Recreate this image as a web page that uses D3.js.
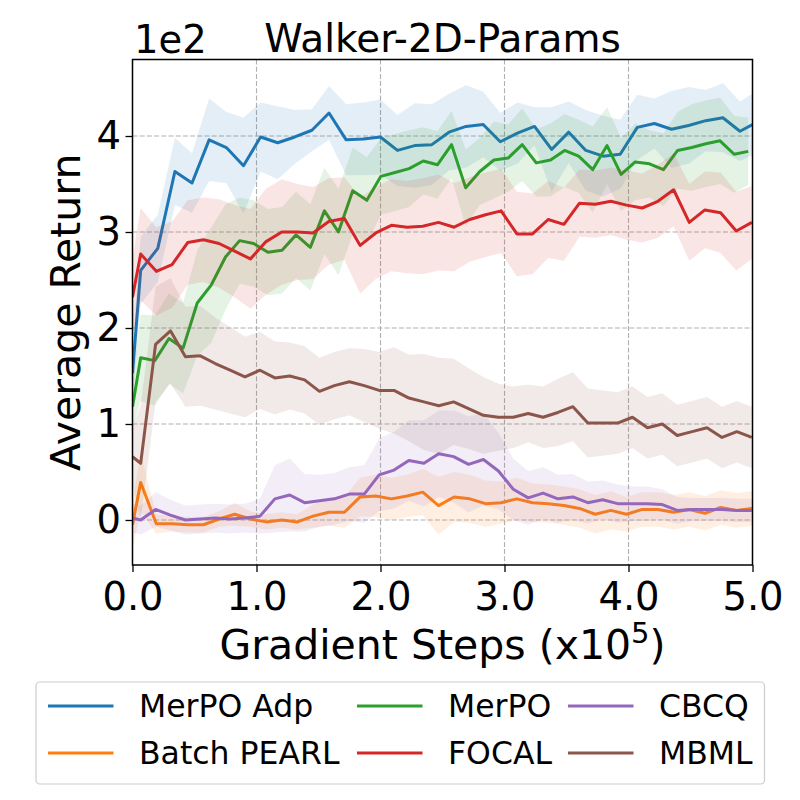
<!DOCTYPE html>
<html>
<head>
<meta charset="utf-8">
<script src="https://cdn.jsdelivr.net/npm/d3@7"></script>
<style>
body { margin: 0; background: #fff; }
text { font-family: "DejaVu Sans", sans-serif; fill: #000; }
</style>
</head>
<body>
<div id="chart"></div>
<script>
// gradient steps (x1e5) at which each run was logged
const stepsAdp = [0, 0.066, 0.204, 0.342, 0.480, 0.618, 0.757, 0.895, 1.033, 1.171, 1.309, 1.447, 1.585, 1.723, 1.861, 1.999, 2.137, 2.276, 2.414, 2.552, 2.690, 2.828, 2.966, 3.104, 3.242, 3.380, 3.518, 3.656, 3.795, 3.933, 4.071, 4.209, 4.347, 4.485, 4.623, 4.761, 4.899, 5.0];
const stepsMerpo = [0, 0.066, 0.180, 0.294, 0.408, 0.522, 0.636, 0.750, 0.864, 0.977, 1.092, 1.206, 1.319, 1.434, 1.548, 1.661, 1.776, 1.890, 2.003, 2.117, 2.231, 2.345, 2.459, 2.573, 2.687, 2.801, 2.915, 3.029, 3.143, 3.256, 3.371, 3.485, 3.598, 3.712, 3.827, 3.940, 4.054, 4.169, 4.282, 4.396, 4.510, 4.624, 4.738, 4.852, 4.966];
const stepsFocal = [0, 0.066, 0.192, 0.319, 0.445, 0.572, 0.698, 0.824, 0.951, 1.077, 1.204, 1.330, 1.456, 1.583, 1.709, 1.836, 1.962, 2.088, 2.215, 2.341, 2.468, 2.594, 2.720, 2.847, 2.973, 3.100, 3.226, 3.352, 3.479, 3.605, 3.732, 3.858, 3.984, 4.111, 4.237, 4.364, 4.490, 4.616, 4.743, 4.869, 4.995];
const stepsMbml = [0, 0.066, 0.186, 0.306, 0.427, 0.547, 0.667, 0.787, 0.907, 1.028, 1.148, 1.268, 1.388, 1.508, 1.628, 1.749, 1.869, 1.989, 2.109, 2.229, 2.350, 2.470, 2.590, 2.710, 2.830, 2.951, 3.071, 3.191, 3.311, 3.431, 3.552, 3.672, 3.792, 3.912, 4.032, 4.153, 4.273, 4.393, 4.513, 4.633, 4.754, 4.874, 4.994];

// mean return and std for each method
const merpoAdpMean = [153, 260, 283, 363, 351, 396, 388, 369, 399, 393, 399, 406, 424, 396, 397, 399, 385, 390, 391, 404, 410, 412, 394, 403, 410, 386, 404, 385, 379, 381, 409, 413, 407, 411, 416, 419, 405, 412];
const merpoAdpStd = [30, 35, 35, 35, 31, 43, 37, 50, 36, 38, 28, 22, 28, 37, 38, 39, 37, 44, 42, 40, 43, 34, 30, 32, 20, 44, 32, 42, 42, 36, 34, 26, 40, 40, 32, 36, 31, 32];

const pearlMean = [-5, 39, -4, -4, -5, -5, 1, 6, 1, -2, 0, -2, 4, 8, 8, 24, 25, 22, 25, 29, 15, 24, 22, 17, 18, 22, 18, 17, 15, 12, 6, 10, 6, 11, 11, 8, 11, 7, 13, 10, 12];
const pearlStd = [25, 30, 10, 8, 8, 8, 8, 12, 8, 8, 8, 8, 12, 14, 16, 20, 22, 22, 22, 24, 30, 26, 25, 24, 22, 22, 20, 20, 20, 20, 20, 20, 18, 18, 18, 18, 18, 18, 18, 18, 18];

const merpoMean = [118, 169, 166, 189, 179, 226, 245, 274, 291, 288, 279, 281, 297, 284, 322, 300, 343, 333, 358, 362, 366, 374, 370, 391, 346, 363, 375, 377, 391, 372, 375, 385, 379, 365, 390, 360, 373, 371, 365, 385, 388, 392, 395, 381, 384];
const merpoStd = [25, 45, 47, 47, 47, 55, 60, 55, 45, 45, 45, 45, 45, 45, 45, 45, 45, 45, 40, 40, 40, 35, 35, 35, 40, 35, 40, 35, 38, 35, 38, 38, 38, 45, 40, 38, 40, 35, 38, 40, 45, 45, 45, 40, 35];

const focalMean = [232, 277, 259, 266, 289, 292, 288, 280, 272, 290, 300, 300, 299, 311, 314, 286, 299, 307, 305, 306, 310, 305, 313, 318, 322, 298, 298, 313, 308, 330, 329, 332, 328, 325, 332, 344, 310, 323, 320, 301, 310];
const focalStd = [40, 48, 46, 45, 44, 44, 46, 48, 52, 55, 55, 50, 48, 45, 43, 50, 48, 48, 48, 50, 50, 46, 44, 44, 44, 44, 42, 40, 38, 35, 35, 35, 36, 36, 38, 38, 40, 40, 42, 41, 38];

const cbcqMean = [2, 0, 11, 5, 0, 1, 2, 1, 2, 4, 22, 26, 18, 20, 22, 27, 27, 47, 52, 62, 59, 69, 66, 58, 63, 51, 32, 23, 28, 22, 24, 18, 21, 17, 17, 17, 16, 10, 11, 11, 11, 10, 10];
const cbcqStd = [15, 15, 18, 16, 15, 15, 15, 15, 15, 18, 35, 38, 30, 27, 27, 28, 30, 38, 40, 42, 45, 45, 48, 50, 48, 40, 32, 28, 27, 25, 24, 22, 20, 20, 18, 18, 16, 14, 12, 12, 12, 12, 12];

const mbmlMean = [66, 59, 183, 197, 170, 171, 163, 156, 149, 156, 148, 150, 146, 134, 140, 144, 140, 135, 135, 127, 123, 119, 123, 116, 109, 107, 107, 111, 107, 112, 118, 101, 101, 101, 107, 96, 100, 88, 92, 96, 86, 92, 86];
const mbmlStd = [30, 60, 60, 55, 52, 52, 48, 45, 42, 40, 38, 35, 35, 35, 35, 35, 38, 40, 45, 45, 50, 50, 45, 42, 40, 35, 32, 30, 32, 35, 36, 36, 34, 32, 32, 32, 32, 32, 32, 32, 32, 32, 32];

const names = ["MerPO Adp", "Batch PEARL", "MerPO", "FOCAL", "CBCQ", "MBML"];
const colors = ["#1f77b4", "#ff7f0e", "#2ca02c", "#d62728", "#9467bd", "#8c564b"];
const xTicks = [0, 1, 2, 3, 4, 5];
const yTicks = [0, 100, 200, 300, 400];

const series = [
  {x: stepsAdp, mean: merpoAdpMean, std: merpoAdpStd},
  {x: stepsFocal, mean: pearlMean, std: pearlStd},
  {x: stepsMerpo, mean: merpoMean, std: merpoStd},
  {x: stepsFocal, mean: focalMean, std: focalStd},
  {x: stepsMbml, mean: cbcqMean, std: cbcqStd},
  {x: stepsMbml, mean: mbmlMean, std: mbmlStd},
].map((s, i) => ({
  name: names[i],
  color: colors[i],
  points: s.x.map((x, j) => ({x: x, m: s.mean[j], sd: s.std[j]}))
}));

const width = 800;
const height = 800;
const margin = {top: 59.5, right: 47.5, bottom: 235, left: 132.5};

const xScale = d3.scaleLinear()
.domain([0, 5])
.range([margin.left, width - margin.right]);

const yScale = d3.scaleLinear()
.domain([-46.9, 479.7])
.range([height - margin.bottom, margin.top]);

const svg = d3.select("#chart")
.append("svg")
.attr("width", width)
.attr("height", height);

svg.append("defs").append("clipPath")
.attr("id", "plot-clip")
.append("rect")
.attr("x", margin.left)
.attr("y", margin.top)
.attr("width", width - margin.left - margin.right)
.attr("height", height - margin.top - margin.bottom);

// grid
const grid = svg.append("g")
.attr("stroke", "#b0b0b0")
.attr("stroke-width", 1.1)
.attr("stroke-dasharray", "5,2.2");

grid.selectAll(".gx")
.data(xTicks)
.enter()
.append("line")
.attr("x1", d => xScale(d))
.attr("x2", d => xScale(d))
.attr("y1", margin.top)
.attr("y2", height - margin.bottom);

grid.selectAll(".gy")
.data(yTicks)
.enter()
.append("line")
.attr("x1", margin.left)
.attr("x2", width - margin.right)
.attr("y1", d => yScale(d))
.attr("y2", d => yScale(d));

const area = d3.area()
.x(d => xScale(d.x))
.y0(d => yScale(d.m - d.sd))
.y1(d => yScale(d.m + d.sd));

const line = d3.line()
.x(d => xScale(d.x))
.y(d => yScale(d.m));

const plot = svg.append("g").attr("clip-path", "url(#plot-clip)");

series.forEach(s => {
  plot.append("path")
  .attr("d", line(s.points))
  .attr("fill", "none")
  .attr("stroke", s.color)
  .attr("stroke-width", 3)
  .attr("stroke-linejoin", "round");
  plot.append("path")
  .attr("d", area(s.points))
  .attr("fill", s.color)
  .attr("fill-opacity", 0.12);
});

// axes
const xAxis = svg.append("g")
.attr("transform", "translate(0," + (height - margin.bottom) + ")")
.call(d3.axisBottom(xScale).tickValues(xTicks).tickFormat(d3.format(".1f")).tickSize(7).tickSizeOuter(0).tickPadding(11));

const yAxis = svg.append("g")
.attr("transform", "translate(" + margin.left + ",0)")
.call(d3.axisLeft(yScale).tickValues(yTicks).tickFormat(d => d / 100).tickSize(7).tickSizeOuter(0).tickPadding(4.5));

[xAxis, yAxis].forEach(a => {
  a.select(".domain").remove();
  a.selectAll(".tick line").attr("stroke", "#000").attr("stroke-width", 1.3);
  a.selectAll("text")
  .attr("font-family", "DejaVu Sans")
  .attr("font-size", 38.5)
  .attr("fill", "#000");
});

svg.append("rect")
.attr("x", margin.left)
.attr("y", margin.top)
.attr("width", width - margin.left - margin.right)
.attr("height", height - margin.top - margin.bottom)
.attr("fill", "none")
.attr("stroke", "#000")
.attr("stroke-width", 1.5);

// texts
svg.append("text")
.attr("x", 134)
.attr("y", 53)
.attr("font-size", 38.5)
.text("1e2");

svg.append("text")
.attr("x", (margin.left + width - margin.right) / 2)
.attr("y", 52)
.attr("text-anchor", "middle")
.attr("font-size", 39)
.text("Walker-2D-Params");

svg.append("text")
.attr("transform", "translate(80," + ((margin.top + height - margin.bottom) / 2) + ") rotate(-90)")
.attr("text-anchor", "middle")
.attr("font-size", 41)
.text("Average Return");

const xLabel = svg.append("text")
.attr("x", (margin.left + width - margin.right) / 2)
.attr("y", 659)
.attr("text-anchor", "middle")
.attr("font-size", 41);
xLabel.append("tspan").text("Gradient Steps (x10");
xLabel.append("tspan").attr("font-size", 29).attr("dy", -16).text("5");
xLabel.append("tspan").attr("dy", 16).text(")");

// legend
const legendCols = [48, 357, 568];
const legendRows = [706, 753];

svg.append("rect")
.attr("x", 36)
.attr("y", 682)
.attr("width", 728.5)
.attr("height", 102)
.attr("rx", 4)
.attr("fill", "#fff")
.attr("fill-opacity", 0.8)
.attr("stroke", "#cccccc")
.attr("stroke-width", 1.2);

const legend = svg.selectAll(".legend")
.data(series)
.enter()
.append("g")
.attr("transform", (d, i) => "translate(" + legendCols[Math.floor(i / 2)] + "," + legendRows[i % 2] + ")");

legend.append("line")
.attr("x1", 0)
.attr("x2", 65.5)
.attr("stroke", d => d.color)
.attr("stroke-width", 3);

legend.append("text")
.attr("x", 91)
.attr("y", 11)
.attr("font-size", 31.5)
.text(d => d.name);
</script>
</body>
</html>
